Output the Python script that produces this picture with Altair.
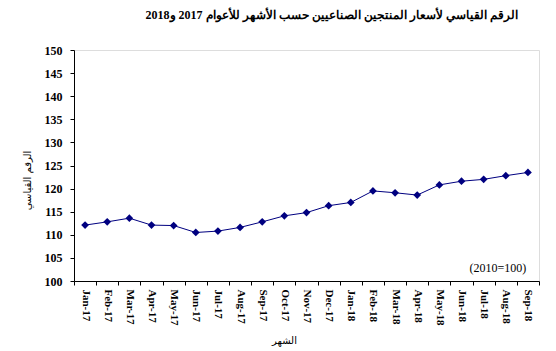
import altair as alt
import pandas as pd

months = ["Jan-17", "Feb-17", "Mar-17", "Apr-17", "May-17", "Jun-17", "Jul-17",
          "Aug-17", "Sep-17", "Oct-17", "Nov-17", "Dec-17", "Jan-18", "Feb-18",
          "Mar-18", "Apr-18", "May-18", "Jun-18", "Jul-18", "Aug-18", "Sep-18"]
values = [112.1, 112.8, 113.6, 112.1, 112.0, 110.5, 110.8, 111.6, 112.8, 114.1,
          114.8, 116.3, 117.0, 119.5, 119.1, 118.6, 120.8, 121.6, 122.0, 122.8, 123.5]
y_ticks = [100, 105, 110, 115, 120, 125, 130, 135, 140, 145, 150]

title_text = "الرقم القياسي لأسعار المنتجين الصناعيين حسب الأشهر للأعوام 2017 و2018"
y_title = "الرقم القياسي"
x_title = "الشهر"
note_text = ["(2010=100)"]
note_month = ["Aug-18"]
note_value = [102.8]

df = pd.DataFrame({"month": months, "value": values})
note_df = pd.DataFrame({"month": note_month, "value": note_value, "text": note_text})

serif = "Liberation Serif"

x_enc = alt.X("month:N", sort=months, title=x_title,
              scale=alt.Scale(paddingInner=0, paddingOuter=0),
              axis=alt.Axis(labelAngle=90, labelFont=serif, labelFontWeight="bold",
                            labelFontSize=11, labelColor="black", labelAlign="left",
                            labelBaseline="middle", labelPadding=4, labelOverlap=False,
                            tickBand="extent", tickSize=4, tickColor="black",
                            domainColor="black", titleFont="DejaVu Sans",
                            titleFontSize=10, titleFontWeight="normal",
                            titleColor="black", titleX=210, titleY=54))
y_enc = alt.Y("value:Q", title=y_title,
              scale=alt.Scale(domain=[100, 150], nice=False, zero=False),
              axis=alt.Axis(values=y_ticks, grid=False, labelOverlap=False,
                            labelFont=serif, labelFontWeight="bold", labelFontSize=12,
                            labelColor="black", tickSize=4, tickColor="black",
                            domainColor="black", labelPadding=8,
                            titleFont="DejaVu Sans", titleFontSize=10,
                            titleFontWeight="normal", titleColor="black",
                            titleX=-42, titleY=130, titleAngle=-90))

line = alt.Chart(df).mark_line(color="#000080", strokeWidth=1).encode(x=x_enc, y=y_enc)
pts = alt.Chart(df).mark_point(shape="diamond", filled=True, color="#000080",
                               size=60, opacity=1).encode(x=x_enc, y=y_enc)
note = alt.Chart(note_df).mark_text(font=serif, fontSize=12, color="black",
                                    dx=-8).encode(x=x_enc, y=y_enc, text="text:N")

chart = alt.layer(line, pts, note).properties(
    width=465, height=231,
    title=alt.TitleParams(title_text, font=serif, fontSize=12, fontWeight="bold",
                          color="black", anchor="middle", dx=25, offset=22),
    autosize=alt.AutoSizeParams(type="none"),
    padding={"left": 74, "top": 50, "right": 17, "bottom": 70},
).configure_view(stroke="#e3e3e3", strokeWidth=1).configure(background="white")

chart.save("out.html", embed_options={"renderer": "svg", "actions": False})
